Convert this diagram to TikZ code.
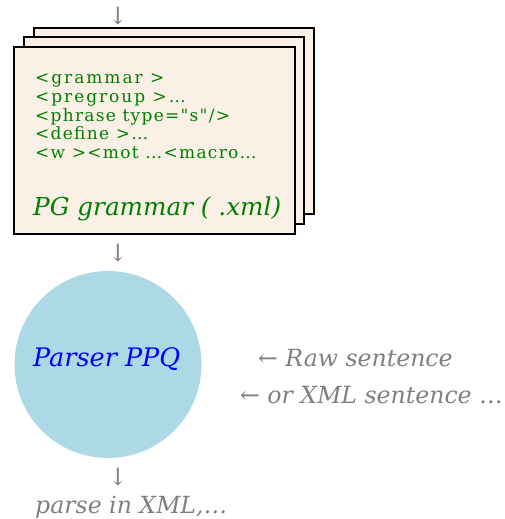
\documentclass[tikz,border=0pt]{standalone}
\usepackage{fontspec}
\setmainfont{DejaVu Serif}
\newfontfamily\codefont{DejaVu Serif}[Ligatures=TeXOff, LetterSpace=7.5]
\newfontfamily\widecodefont{DejaVu Serif}[Ligatures=TeXOff, LetterSpace=11.5]
\definecolor{linen}{HTML}{FAF0E6}
\definecolor{lblue}{HTML}{ADD8E6}
\definecolor{dgreen}{HTML}{008000}
\definecolor{midgray}{HTML}{808080}
\tikzset{
  page/.style={draw=black, line width=2pt, fill=linen},
  codeline/.style={anchor=base west, inner sep=0pt, text=dgreen, font=\codefont\fontsize{17}{18}\selectfont},
  widecodeline/.style={codeline, font=\widecodefont\fontsize{17}{18}\selectfont},
  glyph/.style={inner sep=0pt, text=midgray, font=\fontsize{24}{28}\selectfont},
  note/.style={anchor=base west, inner sep=0pt, text=midgray, font=\itshape\fontsize{23.6}{28}\selectfont},
}
\begin{document}
\begin{tikzpicture}[x=1pt,y=-1pt]
\useasboundingbox (0,0) rectangle (505,519);
% stacked grammar pages
\draw[page] (34,28) rectangle (314,214);
\draw[page] (24,37) rectangle (304,224);
\draw[page] (14,47) rectangle (295,234);
\node[widecodeline] (l1) at (35,83.7) {<grammar >};
\node[widecodeline] (l2) at (35,102.3) {<pregroup >…};
\node[codeline] (l3) at (35,121) {<phrase type="s"/>};
\node[codeline] (l4) at (35,139.7) {<define >…};
\node[codeline] (l5) at (35,158.3) {<w ><mot …<macro…};
\node[anchor=base west, inner sep=0pt, text=dgreen, font=\itshape\fontsize{24.7}{28}\selectfont] (pg) at (33,215) {PG grammar ( .xml)};
% flow arrows
\node[glyph] (a1) at (118,16) {↓};
\node[glyph] (a2) at (118,253.5) {↓};
\node[glyph] (a3) at (118,477) {↓};
% parser
\node[circle, fill=lblue, minimum size=187pt, inner sep=0pt] (parser) at (108,364.5) {};
\node[anchor=base west, inner sep=0pt, text=blue, font=\itshape\fontsize{25.5}{28}\selectfont] (ppq) at (33,366) {Parser PPQ};
\node[note] (raw) at (258,366) {← Raw sentence};
\node[note] (xml) at (240,403) {← or XML sentence …};
\node[note] (out) at (35,513) {parse in XML,…};
\end{tikzpicture}
\end{document}
